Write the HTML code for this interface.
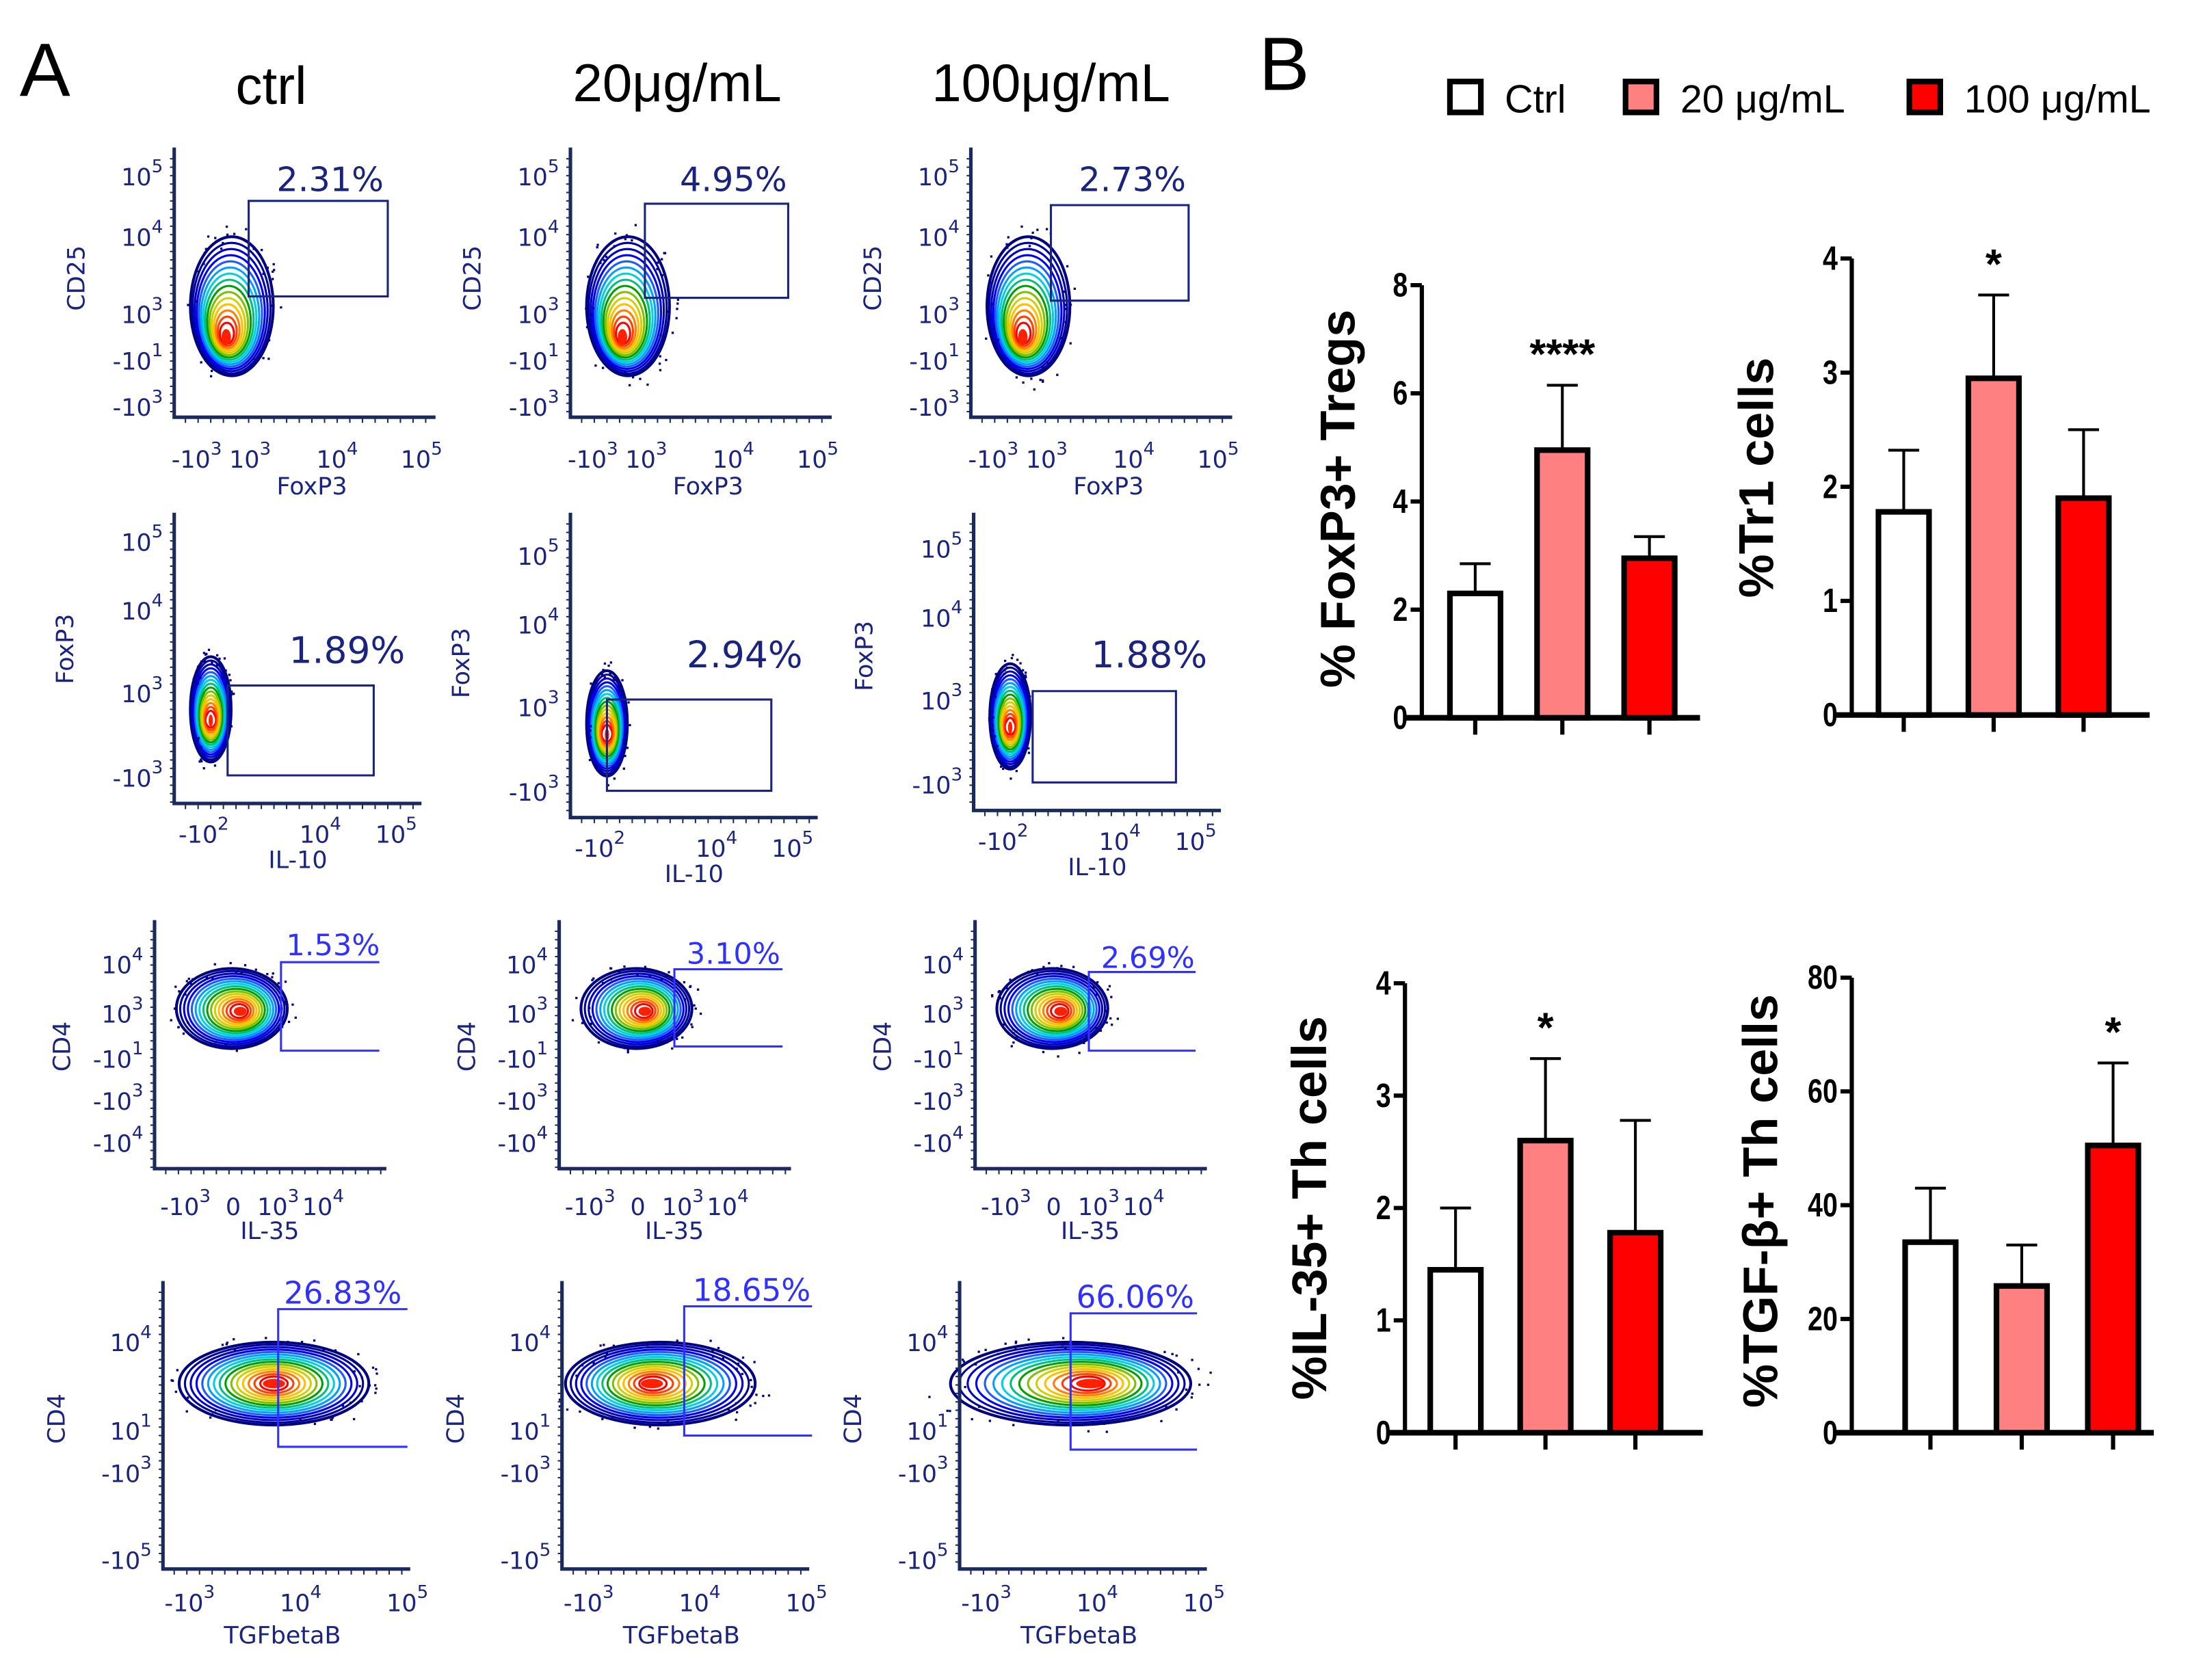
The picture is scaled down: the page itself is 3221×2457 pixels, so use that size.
<!DOCTYPE html>
<html><head><meta charset="utf-8"><style>
html,body{margin:0;padding:0;background:#fff;overflow:hidden;width:3221px;height:2457px;}
svg{display:block;}
.fl{font-family:"DejaVu Sans","Liberation Sans",sans-serif;fill:#1a237e;}
.bc{font-family:"Liberation Sans",sans-serif;font-weight:bold;fill:#000;}
</style></head><body>
<svg id="fig" xmlns="http://www.w3.org/2000/svg" width="3221" height="2457" viewBox="0 0 1568 1196">
<rect width="1568" height="1196" fill="#fff"/>
<text x="14" y="68" font-family="Liberation Sans, sans-serif" font-size="54">A</text>
<text x="896" y="64" font-family="Liberation Sans, sans-serif" font-size="54">B</text>
<text x="193" y="74" text-anchor="middle" font-family="Liberation Sans, sans-serif" font-size="38">ctrl</text>
<text x="482" y="72" text-anchor="middle" font-family="Liberation Sans, sans-serif" font-size="38">20μg/mL</text>
<text x="748" y="72" text-anchor="middle" font-family="Liberation Sans, sans-serif" font-size="38">100μg/mL</text>
<g>
<rect x="1032" y="58" width="22" height="22" fill="#fff" stroke="#000" stroke-width="4"/>
<text x="1071" y="80" font-family="Liberation Sans, sans-serif" font-size="28">Ctrl</text>
<rect x="1157" y="58" width="22" height="22" fill="#ff8080" stroke="#000" stroke-width="4"/>
<text x="1196" y="80" font-family="Liberation Sans, sans-serif" font-size="28">20 μg/mL</text>
<rect x="1359" y="58" width="22" height="22" fill="#ff0000" stroke="#000" stroke-width="4"/>
<text x="1398" y="80" font-family="Liberation Sans, sans-serif" font-size="28">100 μg/mL</text>
</g>
<g id="flow"></g>
<g id="bars"></g>
</svg>
<script>
// ---------- bar chart data ----------
const groups = ["Ctrl", "20 μg/mL", "100 μg/mL"];
const tregMean = [2.3, 4.95, 2.95];
const tregErr = [2.85, 6.15, 3.35];
const tr1Mean = [1.78, 2.95, 1.9];
const tr1Err = [2.32, 3.68, 2.5];
const il35Mean = [1.45, 2.6, 1.78];
const il35Err = [2.0, 3.33, 2.78];
const tgfMean = [33.5, 25.8, 50.5];
const tgfErr = [43, 33, 65];
const tregTicks = [0, 2, 4, 6, 8];
const tr1Ticks = [0, 1, 2, 3, 4];
const il35Ticks = [0, 1, 2, 3, 4];
const tgfTicks = [0, 20, 40, 60, 80];
const tregStars = ["", "****", ""];
const tr1Stars = ["", "*", ""];
const il35Stars = ["", "*", ""];
const tgfStars = ["", "", "*"];

const NS = "http://www.w3.org/2000/svg";
function mk(tag, attrs, parent) {
  const e = document.createElementNS(NS, tag);
  for (const k in attrs) e.setAttribute(k, attrs[k]);
  parent.appendChild(e);
  return e;
}
const fills = ["#ffffff", "#ff8080", "#ff0000"];

function barChart(cfg) {
  const g = mk("g", {}, document.getElementById("bars"));
  
  
  const ymax = cfg.ticks[cfg.ticks.length - 1];
  const Y = v => cfg.y0 - (v / ymax) * (cfg.y0 - cfg.yTop);
  const X = i => cfg.xs + i * cfg.step;
  const ya = mk("line", {x1: cfg.ax, y1: Y(ymax), x2: cfg.ax, y2: cfg.y0, stroke: "#000", "stroke-width": 3}, g);
  
  
  const xa = mk("line", {x1: cfg.ax - 12, y1: cfg.y0, x2: cfg.xEnd, y2: cfg.y0, stroke: "#000", "stroke-width": 4}, g);
  
  
  cfg.ticks.forEach(t => {
    mk("line", {x1: cfg.ax - 8, y1: Y(t), x2: cfg.ax, y2: Y(t), stroke: "#000", "stroke-width": 3}, g);
    const tl = mk("text", {x: cfg.ax - 10, y: Y(t) + 8, "text-anchor": "end", "font-size": 24, class: "bc", transform: `translate(${cfg.ax - 10},0) scale(0.8,1) translate(${-(cfg.ax - 10)},0)`}, g);
    tl.textContent = t;
    
    
  });
  cfg.mean.forEach((v, i) => {
    const cx = X(i), w = 36;
    mk("line", {x1: cx, y1: cfg.y0, x2: cx, y2: cfg.y0 + 12, stroke: "#000", "stroke-width": 3}, g);
    const eb = mk("path", {d: `M${cx} ${Y(v)} V${Y(cfg.err[i])} M${cx - 11} ${Y(cfg.err[i])} H${cx + 11}`, stroke: "#000", "stroke-width": 2, fill: "none"}, g);
    
    
    const b = mk("rect", {x: cx - w / 2, y: Y(v), width: w, height: cfg.y0 - Y(v), fill: fills[i], stroke: "#000", "stroke-width": 4}, g);
    
    
    if (cfg.stars[i]) {
      const s = mk("text", {x: cx, y: Y(cfg.err[i]) - 12, "text-anchor": "middle", "font-size": 30, class: "bc"}, g);
      s.textContent = cfg.stars[i];
      
      
    }
  });
  const tt = mk("text", {x: 0, y: 0, "text-anchor": "middle", "font-size": 35, class: "bc", transform: `translate(${cfg.tx},${cfg.ty}) rotate(-90)`}, g);
  tt.textContent = cfg.title;
  
  
}
barChart({name: "chart-foxp3-tregs", ax: 1012, y0: 511, yTop: 203, xEnd: 1210, xs: 1050, step: 62, ticks: tregTicks, mean: tregMean, err: tregErr, stars: tregStars, title: "% FoxP3+ Tregs", tx: 964, ty: 355});
barChart({name: "chart-tr1-cells", ax: 1318, y0: 509, yTop: 184, xEnd: 1530, xs: 1355, step: 64, ticks: tr1Ticks, mean: tr1Mean, err: tr1Err, stars: tr1Stars, title: "%Tr1 cells", tx: 1262, ty: 340});
barChart({name: "chart-il35-th", ax: 1000, y0: 1020, yTop: 700, xEnd: 1212, xs: 1036, step: 64, ticks: il35Ticks, mean: il35Mean, err: il35Err, stars: il35Stars, title: "%IL-35+  Th cells", tx: 944, ty: 860});
barChart({name: "chart-tgfb-th", ax: 1318, y0: 1020, yTop: 696, xEnd: 1533, xs: 1374, step: 65, ticks: tgfTicks, mean: tgfMean, err: tgfErr, stars: tgfStars, title: "%TGF-β+  Th cells", tx: 1265, ty: 855});

// ---------- flow cytometry panels (decorative) ----------
let seed = 7;
function rnd() { seed = (seed * 16807) % 2147483647; return seed / 2147483647; }
const contour = ["#000080","#0000a0","#0000c8","#0000ff","#1e5aff","#00a0ff","#00d0e0","#00c080","#00a000","#80c000","#d0d000","#ffc000","#ff8000","#ff4000","#ff0000","#ffffff"];
function pw(parent, x, y, base, sup, size, anchor) {
  const t = mk("text", {x: x, y: y, "font-size": size, "text-anchor": anchor || "middle", class: "fl"}, parent);
  const a = mk("tspan", {}, t); a.textContent = base;
  if (sup !== undefined && sup !== "") { const b = mk("tspan", {dy: -size * 0.55, "font-size": size * 0.75}, t); b.textContent = sup; }
  return t;
}
function flow(p) {
  const g = mk("g", {}, document.getElementById("flow"));
  
  
  const n = contour.length;
  for (let k = 0; k < n; k++) {
    const f = 1 - k / n;
    mk("ellipse", {cx: p.bx + (k / n) * p.shift, cy: p.by + (k / n) * p.shiftY, rx: p.rx * f + 1.5, ry: p.ry * f + 1.5, fill: k === 0 ? "#fff" : "none", stroke: contour[k], "stroke-width": k === 0 ? 2 : 1.5}, g);
  }
  mk("ellipse", {cx: p.bx + p.shift, cy: p.by + p.shiftY, rx: p.rx * 0.12, ry: p.ry * 0.12, fill: "#ff2000"}, g);
  for (let i = 0; i < 45; i++) {
    const a = rnd() * Math.PI * 2, r = 0.9 + rnd() * 0.35;
    mk("rect", {x: p.bx + Math.cos(a) * p.rx * r, y: p.by + Math.sin(a) * p.ry * r, width: 1.6, height: 1.6, fill: "#000080"}, g);
  }
  mk("path", {d: `M${p.ax} ${p.top} V${p.bot} H${p.right}`, stroke: "#1a2a5e", "stroke-width": 2.5, fill: "none"}, g);
  for (let y = p.top + 8; y < p.bot; y += 6) mk("line", {x1: p.ax - 3, y1: y, x2: p.ax, y2: y, stroke: "#1a2a5e", "stroke-width": 1}, g);
  for (let x = p.ax + 8; x < p.right; x += 9) mk("line", {x1: x, y1: p.bot, x2: x, y2: p.bot + 4, stroke: "#1a2a5e", "stroke-width": 1}, g);
  p.yt.forEach(t => pw(g, p.ax - 8, t[0], t[1], t[2], 17, "end"));
  p.xt.forEach(t => pw(g, t[0], p.xtY, t[1], t[2], 17, "middle"));
  const xl = mk("text", {x: p.xlx, y: p.xly, "font-size": 17, "text-anchor": "middle", class: "fl"}, g);
  xl.textContent = p.xl;
  
  
  const yl = mk("text", {x: 0, y: 0, "font-size": 17, "text-anchor": "middle", class: "fl", transform: `translate(${p.ylx},${p.yly}) rotate(-90)`}, g);
  yl.textContent = p.yl;
  
  
  const gc = p.open ? "#3030ff" : "#1a237e";
  const gd = p.open ? `M${p.g[2]} ${p.g[1]} H${p.g[0]} V${p.g[3]} H${p.g[2]}` : `M${p.g[0]} ${p.g[1]} H${p.g[2]} V${p.g[3]} H${p.g[0]} Z`;
  const gate = mk("path", {d: gd, stroke: gc, "stroke-width": 1.5, fill: "none"}, g);
  
  
  const lab = mk("text", {x: p.lx, y: p.ly, "font-size": p.ls, "text-anchor": "middle", class: "fl", style: "fill:" + gc}, g);
  lab.textContent = p.label;
  
  
}
function offX(arr, dx) { return arr.map(t => [t[0] + dx, t[1], t[2]]); }
function offY(arr, dy) { return arr.map(t => [t[0] + dy, t[1], t[2]]); }
// Row 1
const r1y = [[132, "10", "5"], [175, "10", "4"], [230, "10", "3"], [263, "-10", "1"], [296, "-10", "3"]];
const r1x = [[140, "-10", "3"], [178, "10", "3"], [240, "10", "4"], [300, "10", "5"]];
const r1 = [
  {dx: 0, g: [177, 143, 276, 211], label: "2.31%", lx: 235},
  {dx: 282, g: [459, 145, 561, 212], label: "4.95%", lx: 522},
  {dx: 567, g: [748, 146, 846, 214], label: "2.73%", lx: 806}
];
r1.forEach((c, i) => flow({name: "flow-cd25-foxp3-" + i, ax: 124 + c.dx, top: 105, bot: 297, right: 310 + c.dx, bx: 165 + c.dx, by: 218, rx: 28, ry: 48, shift: -4, shiftY: 22,
  yt: r1y, xt: offX(r1x, c.dx), xtY: 333, xl: "FoxP3", xlx: 222 + c.dx, xly: 352, yl: "CD25", ylx: 60 + c.dx, yly: 198,
  g: c.g, open: false, label: c.label, lx: c.lx, ly: 136, ls: 24}));
// Row 2
const r2y = [[392, "10", "5"], [441, "10", "4"], [500, "10", "3"], [560, "-10", "3"]];
const r2x = [[145, "-10", "2"], [228, "10", "4"], [282, "10", "5"]];
const r2 = [
  {dx: 0, dy: 0, g: [162, 488, 266, 552], label: "1.89%", lx: 247, ly: 472},
  {dx: 282, dy: 10, g: [432, 498, 549, 563], label: "2.94%", lx: 530, ly: 475},
  {dx: 569, dy: 5, g: [735, 492, 837, 557], label: "1.88%", lx: 818, ly: 475}
];
r2.forEach((c, i) => flow({name: "flow-foxp3-il10-" + i, ax: 124 + c.dx, top: 365, bot: 572 + c.dy, right: 300 + c.dx, bx: 150 + c.dx, by: 505 + c.dy, rx: 13, ry: 36, shift: 0, shiftY: 8,
  yt: offY(r2y, c.dy), xt: offX(r2x, c.dx), xtY: 600 + c.dy, xl: "IL-10", xlx: 212 + c.dx, xly: 618 + c.dy, yl: "FoxP3", ylx: 52 + c.dx, yly: 462 + c.dy,
  g: c.g, open: false, label: c.label, lx: c.lx, ly: c.ly, ls: 26}));
// Row 3
const r3y = [[693, "10", "4"], [728, "10", "3"], [760, "-10", "1"], [790, "-10", "3"], [820, "-10", "4"]];
const r3x = [[132, "-10", "3"], [166, "0", ""], [198, "10", "3"], [230, "10", "4"]];
const r3 = [
  {dx: 0, g: [200, 685, 270, 748], label: "1.53%", lx: 237, ly: 680},
  {dx: 288, g: [480, 690, 557, 745], label: "3.10%", lx: 522, ly: 686},
  {dx: 584, g: [775, 692, 851, 748], label: "2.69%", lx: 817, ly: 689}
];
r3.forEach((c, i) => flow({name: "flow-cd4-il35-" + i, ax: 110 + c.dx, top: 655, bot: 832, right: 275 + c.dx, bx: 165 + c.dx, by: 718, rx: 38, ry: 27, shift: 6, shiftY: 2,
  yt: r3y, xt: offX(r3x, c.dx), xtY: 865, xl: "IL-35", xlx: 192 + c.dx, xly: 882, yl: "CD4", ylx: 50 + c.dx, yly: 745,
  g: c.g, open: true, label: c.label, lx: c.lx, ly: c.ly, ls: 21}));
// Row 4
const r4y = [[962, "10", "4"], [1025, "10", "1"], [1055, "-10", "3"], [1117, "-10", "5"]];
const r4x = [[135, "-10", "3"], [214, "10", "4"], [290, "10", "5"]];
const r4 = [
  {dx: 0, g: [198, 932, 290, 1030], label: "26.83%", lx: 244, ly: 928, bx: 195, rx: 66, sh: 0},
  {dx: 284, g: [487, 930, 578, 1022], label: "18.65%", lx: 535, ly: 926, bx: 470, rx: 66, sh: -6},
  {dx: 567, g: [762, 935, 852, 1032], label: "66.06%", lx: 808, ly: 931, bx: 762, rx: 84, sh: 14}
];
r4.forEach((c, i) => flow({name: "flow-cd4-tgfb-" + i, ax: 116 + c.dx, top: 912, bot: 1117, right: 292 + c.dx, bx: c.bx, by: 985, rx: c.rx, ry: 28, shift: c.sh, shiftY: 0,
  yt: r4y, xt: offX(r4x, c.dx), xtY: 1147, xl: "TGFbetaB", xlx: 201 + c.dx, xly: 1170, yl: "CD4", ylx: 46 + c.dx, yly: 1010,
  g: c.g, open: true, label: c.label, lx: c.lx, ly: c.ly, ls: 22}));
</script>
</body></html>
